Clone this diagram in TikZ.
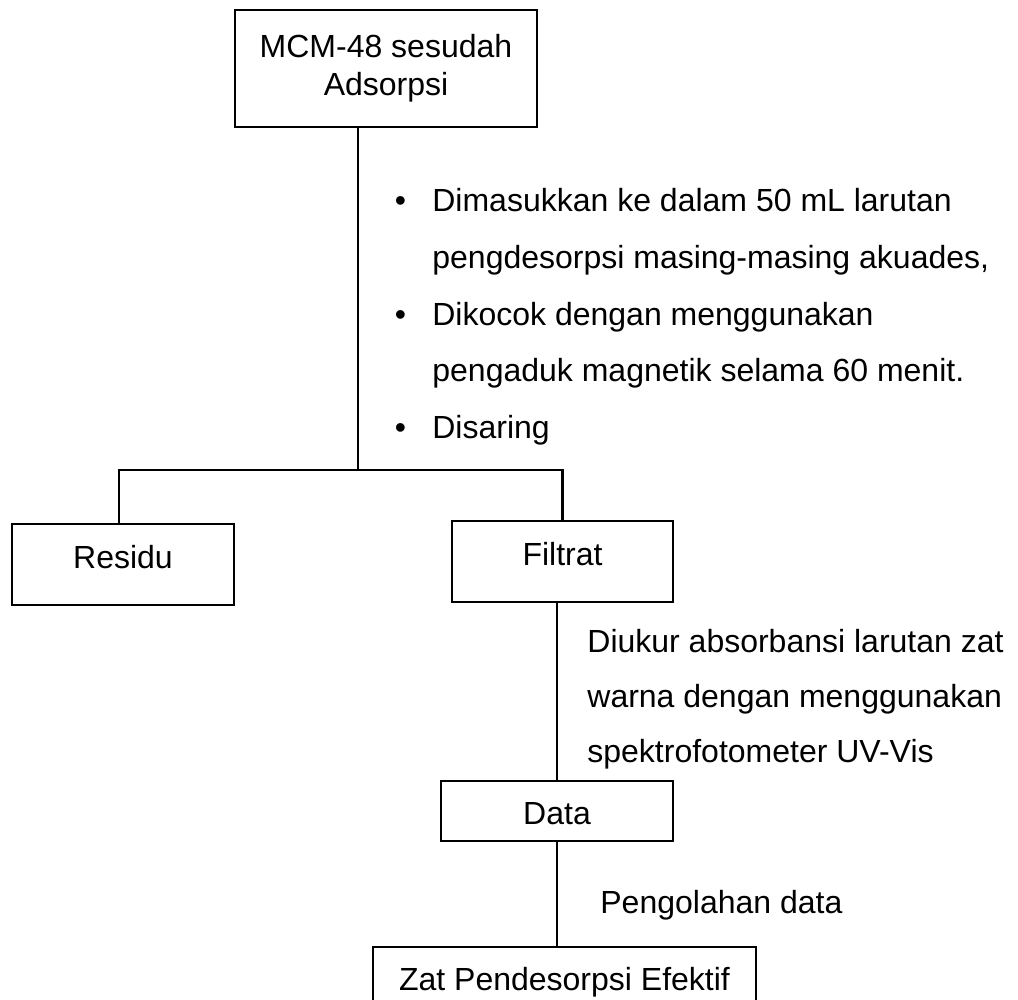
\documentclass[tikz,border=0pt]{standalone}
\usepackage{fontspec}
\setmainfont{Liberation Sans}
\begin{document}
\begin{tikzpicture}[x=0.5pt, y=-0.5pt,
  every node/.style={font=\fontsize{16pt}{27.5pt}\selectfont},
  box/.style={draw, line width=1.2pt, inner sep=0pt},
  link/.style={line width=1.2pt},
  note/.style={anchor=base west, inner sep=0pt, align=left}]
  \useasboundingbox (0,0) rectangle (1018,1000);
  \clip (0,0) rectangle (1018,1000);

  % process boxes
  \node[box, minimum width=151pt, minimum height=58.5pt, align=center,
        font=\fontsize{16pt}{19pt}\selectfont] (top) at (386,68.5)
        {MCM-48 sesudah\\Adsorpsi};
  \node[box, minimum width=111pt, minimum height=40.5pt,
        text height=11pt, text depth=7.5pt] (res) at (123,564.5) {Residu};
  \node[box, minimum width=110.5pt, minimum height=40.5pt,
        text height=11pt, text depth=7.5pt] (fil) at (562.5,561.5) {Filtrat};
  \node[box, minimum width=116pt, minimum height=30pt,
        text height=13pt, text depth=0pt] (data) at (557,811) {Data};
  \node[box, minimum width=191.5pt, minimum height=32.5pt,
        text height=11pt, text depth=0.5pt] (eff) at (564.5,979.5) {Zat Pendesorpsi Efektif};

  % connectors
  \coordinate (split) at (358,470);
  \draw[link] (top.south -| split) -- (split);
  \draw[link] ([xshift=-2pt]res.north) |- (split) -| (fil.north);
  \draw[link] (fil.south -| data.north) -- (data.north);
  \draw[link] (data.south) -- (data.south |- eff.north);

  % step descriptions
  \node[note, font=\fontsize{16pt}{28.3pt}\selectfont] (steps) at (394.5,212)
  {\begin{tabular}[t]{@{}p{18.75pt}@{}l@{}}
    \textbullet & Dimasukkan ke dalam 50 mL larutan\\
                & pengdesorpsi masing-masing akuades,\\
    \textbullet & Dikocok dengan menggunakan\\
                & pengaduk magnetik selama 60 menit.\\
    \textbullet & Disaring
  \end{tabular}};
  \node[note] (measure) at (587,652) {\begin{tabular}[t]{@{}l@{}}
    Diukur absorbansi larutan zat\\
    warna dengan menggunakan\\
    spektrofotometer UV-Vis
  \end{tabular}};
  \node[note] (proc) at (600,913) {Pengolahan data};
\end{tikzpicture}
\end{document}
